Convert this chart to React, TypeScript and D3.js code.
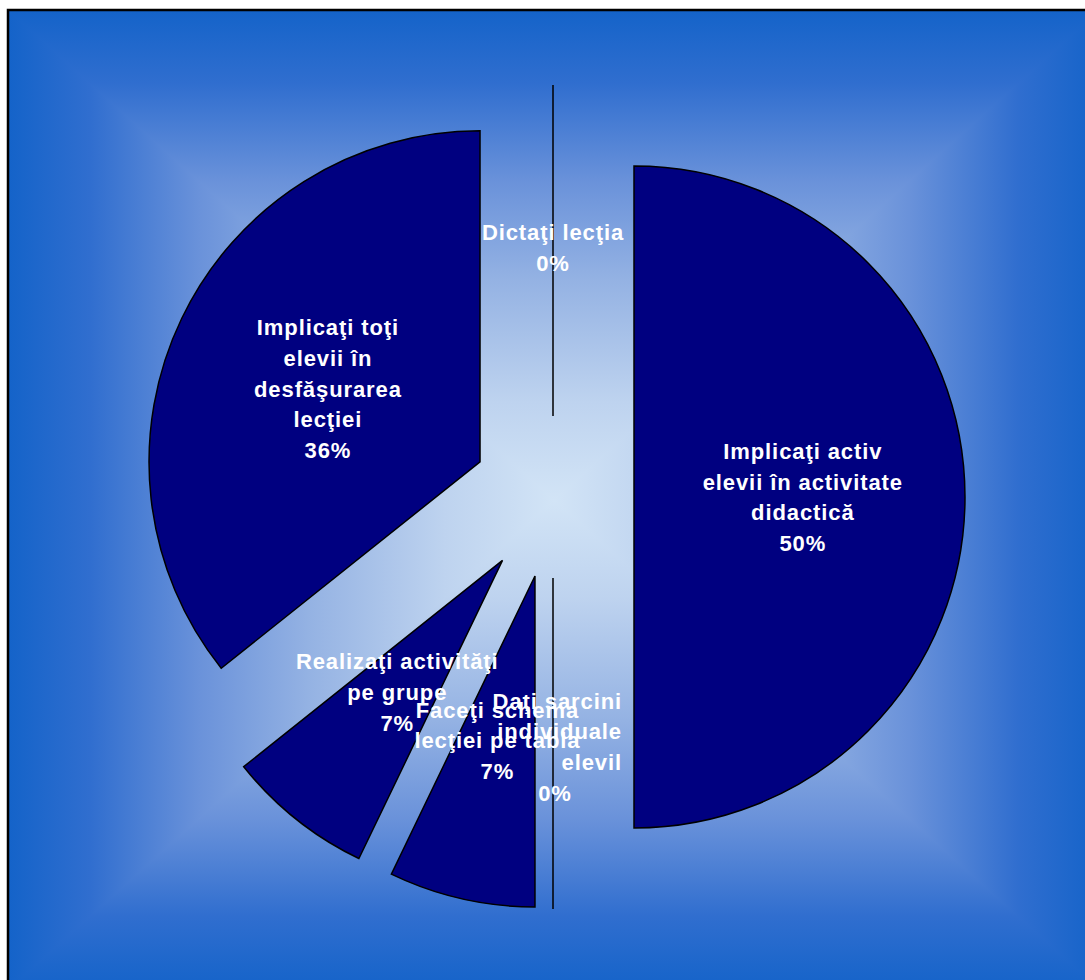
import React from "react";
import * as d3 from "d3";

// ---- data ----
const categories = [
  "Implicaţi activ elevii în activitate didactică",
  "Daţi sarcini individuale elevilor",
  "Faceţi schema lecţiei pe tabla",
  "Realizaţi activităţi pe grupe",
  "Implicaţi toţi elevii în desfăşurarea lecţiei",
  "Dictaţi lecţia",
];
const counts = [7, 0, 1, 1, 5, 0];
const labelLines = [
  ["Implicaţi activ", "elevii în activitate", "didactică"],
  ["Daţi sarcini", "individuale", "elevil"],
  ["Faceţi schema", "lecţiei pe tabla"],
  ["Realizaţi activităţi", "pe grupe"],
  ["Implicaţi toţi", "elevii în", "desfăşurarea", "lecţiei"],
  ["Dictaţi lecţia"],
];

// ---- layout ----
const W = 1085;
const H = 980;
const FX0 = 8, FY0 = 10, FX1 = 1100, FY1 = 990;
const CX = 553, CY = 497, R = 331, EXPLODE = 81;
const LABEL_R = 0.51;
const FONT = 22;
const SPACING = 0.9;
const LINE_H = 30.8;
const SLICE_FILL = "#000080";

const gradStops = [
  { o: 0, c: "#1463c9" },
  { o: 0.15, c: "#306ecf" },
  { o: 0.35, c: "#6a92da" },
  { o: 0.55, c: "#94b2e3" },
  { o: 0.8, c: "#bed3ef" },
  { o: 1, c: "#d2e4f6" },
];

export default function App() {
  const data = categories.map((name, i) => ({ name, value: counts[i], lines: labelLines[i] }));
  const total = d3.sum(counts);
  const pct = d3.format(".0%");
  const pie = d3.pie<any>().sort(null).value((d) => d.value).startAngle(0).endAngle(2 * Math.PI);
  const arcs = pie(data);
  const arcGen = d3.arc<any>().innerRadius(0).outerRadius(R);

  const gx = (FX0 + FX1) / 2;
  const gy = (FY0 + FY1) / 2;
  const tris = [
    { id: "gt", pts: [[FX0, FY0], [FX1, FY0], [gx, gy]], x1: gx, y1: FY0, x2: gx, y2: gy },
    { id: "gb", pts: [[FX0, FY1], [FX1, FY1], [gx, gy]], x1: gx, y1: FY1, x2: gx, y2: gy },
  ];

  return (
    <svg
      width={W}
      height={H}
      style={{ position: "fixed", left: 0, top: 0, display: "block" }}
      xmlns="http://www.w3.org/2000/svg"
    >
      <defs>
        <linearGradient id="gl" gradientUnits="userSpaceOnUse" x1={FX0} y1={gy} x2={FX1} y2={gy}>
          {gradStops.map((s, k) => (
            <stop key={k} offset={s.o / 2} stopColor={s.c} />
          ))}
          {gradStops
            .slice()
            .reverse()
            .map((s, k) => (
              <stop key={"r" + k} offset={1 - s.o / 2} stopColor={s.c} />
            ))}
        </linearGradient>
        {tris.map((t) => (
          <linearGradient key={t.id} id={t.id} gradientUnits="userSpaceOnUse" x1={t.x1} y1={t.y1} x2={t.x2} y2={t.y2}>
            {gradStops.map((s, k) => (
              <stop key={k} offset={s.o} stopColor={s.c} />
            ))}
          </linearGradient>
        ))}
      </defs>
      <rect x={0} y={0} width={W} height={H} fill="#ffffff" />
      <rect x={FX0} y={FY0} width={FX1 - FX0} height={FY1 - FY0} fill="url(#gl)" />
      {tris.map((t) => (
        <polygon key={t.id} points={t.pts.map((p) => p.join(",")).join(" ")} fill={`url(#${t.id})`} />
      ))}
      <rect x={FX0} y={FY0} width={FX1 - FX0} height={FY1 - FY0} fill="none" stroke="#000" strokeWidth={2.5} />

      {arcs.map((a, i) => {
        const mid = (a.startAngle + a.endAngle) / 2;
        const ox = CX + Math.sin(mid) * EXPLODE;
        const oy = CY - Math.cos(mid) * EXPLODE;
        return (
          <path
            key={i}
            d={arcGen(a) as string}
            transform={`translate(${ox},${oy})`}
            fill={SLICE_FILL}
            stroke="#000"
            strokeWidth={1.5}
            strokeLinejoin="miter"
          />
        );
      })}

      {arcs.map((a, i) => {
        const mid = (a.startAngle + a.endAngle) / 2;
        const ox = CX + Math.sin(mid) * EXPLODE;
        const oy = CY - Math.cos(mid) * EXPLODE;
        const px = ox + Math.sin(mid) * R * LABEL_R;
        const py = oy - Math.cos(mid) * R * LABEL_R;
        const lines = [...a.data.lines, pct(a.data.value / total)];
        const n = lines.length;
        const rightAligned = i === 1;
        return (
          <g key={"l" + i}>
            {lines.map((ln, k) => {
              const isPct = k === n - 1;
              const anchor = rightAligned && !isPct ? "end" : "middle";
              const x = rightAligned ? (isPct ? px + 2 : px + 69) : px;
              const y = py + (k - (n - 1) / 2) * LINE_H + FONT * 0.36;
              return (
                <text
                  key={k}
                  x={x}
                  y={y}
                  textAnchor={anchor}
                  fontFamily="'Liberation Sans', Arial, sans-serif"
                  fontWeight="bold"
                  fontSize={FONT}
                  letterSpacing={SPACING}
                  fill="#ffffff"
                >
                  {ln}
                </text>
              );
            })}
          </g>
        );
      })}
    </svg>
  );
}
